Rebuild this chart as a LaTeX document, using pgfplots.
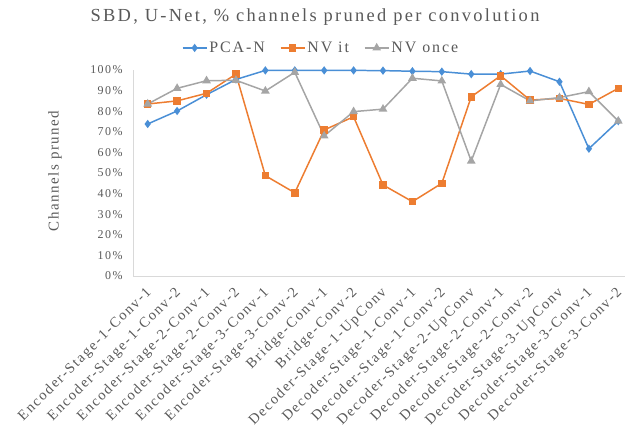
\documentclass[border=0pt]{standalone}
\usepackage{fontspec}
\setmainfont{Liberation Serif}
\newfontfamily\titlefont[LetterSpace=12.5]{Liberation Serif}
\newfontfamily\labelfont[LetterSpace=12]{Liberation Serif}
\newfontfamily\ylabfont[LetterSpace=10]{Liberation Serif}
\usepackage{pgfplots}
\pgfplotsset{compat=1.18}
\usepackage{pgfplotstable}

\definecolor{pcablue}{HTML}{4A8FD6}
\definecolor{nvorange}{HTML}{ED7D31}
\definecolor{nvgray}{HTML}{A5A5A5}
\definecolor{txtgray}{HTML}{595959}
\definecolor{axgray}{HTML}{D9D9D9}

% percentage of channels pruned in each convolution layer
\pgfplotstableread{
idx pca  nvit nvonce
0   73.8 83.5 83.5
1   80.1 85.0 91.1
2   88.0 88.7 94.8
3   95.4 98.0 95.0
4   99.8 48.7 89.8
5   99.8 40.4 98.9
6   99.8 70.9 68.0
7   99.8 77.3 79.8
8   99.7 44.2 81.0
9   99.4 36.1 96.0
10  99.2 45.0 94.7
11  98.0 87.0 55.8
12  98.0 97.2 93.0
13  99.5 85.4 85.0
14  94.3 86.2 86.6
15  61.8 83.3 89.5
16  75.2 91.1 75.2
}\prunetable

\begin{document}
\begin{tikzpicture}
\path[use as bounding box] (0,0) rectangle (625bp,442bp);
\begin{axis}[
  at={(133bp,166bp)}, anchor=south west,
  scale only axis, width=500bp, height=206bp,
  xmin=-0.5, xmax=16.5, ymin=0, ymax=100,
  axis x line*=bottom, axis y line*=left,
  axis line style={axgray, line width=0.8pt, -},
  major tick length=0pt,
  ytick={0,10,...,100},
  yticklabel={\pgfmathprintnumber{\tick}\%},
  /pgf/number format/assume math mode=true,
  yticklabel style={font=\labelfont\fontsize{12}{13}\selectfont, text=txtgray, xshift=-7bp},
  xtick=data,
  xticklabels={Encoder-Stage-1-Conv-1, Encoder-Stage-1-Conv-2, Encoder-Stage-2-Conv-1, Encoder-Stage-2-Conv-2, Encoder-Stage-3-Conv-1, Encoder-Stage-3-Conv-2, Bridge-Conv-1, Bridge-Conv-2, Decoder-Stage-1-UpConv, Decoder-Stage-1-Conv-1, Decoder-Stage-1-Conv-2, Decoder-Stage-2-UpConv, Decoder-Stage-2-Conv-1, Decoder-Stage-2-Conv-2, Decoder-Stage-3-UpConv, Decoder-Stage-3-Conv-1, Decoder-Stage-3-Conv-2},
  xticklabel style={font=\labelfont\fontsize{14.5}{15.5}\selectfont, text=txtgray, xshift=4bp, yshift=-12bp, rotate=45, anchor=east},
  legend style={draw=none, fill=none, at={(axis description cs:0.376,1.107)}, anchor=center, legend columns=3,
    font=\labelfont\fontsize{16}{17}\selectfont, text=txtgray, inner sep=0pt,
    /tikz/every even column/.append style={column sep=13bp}},
  legend image code/.code={\draw[mark repeat=2, mark phase=2] plot coordinates {(0bp,0bp) (12bp,0bp) (24bp,0bp)};},
  every axis plot/.append style={line width=1.5pt},
]
\addplot[pcablue, mark=diamond*, mark size=3pt] table[x=idx, y=pca] {\prunetable};
\addlegendentry{PCA-N}
\addplot[nvorange, mark=square*, mark size=3pt] table[x=idx, y=nvit] {\prunetable};
\addlegendentry{NV it}
\addplot[nvgray, mark=triangle*, mark size=3.6pt] table[x=idx, y=nvonce] {\prunetable};
\addlegendentry{NV once}
\end{axis}
\node[font=\titlefont\fontsize{18.5}{20}\selectfont, text=txtgray] at (315bp,425bp) {SBD, U-Net, \% channels pruned per convolution};
\node[font=\ylabfont\fontsize{15}{16}\selectfont, text=txtgray, rotate=90] at (55bp,271bp) {Channels pruned};
\end{tikzpicture}
\end{document}
